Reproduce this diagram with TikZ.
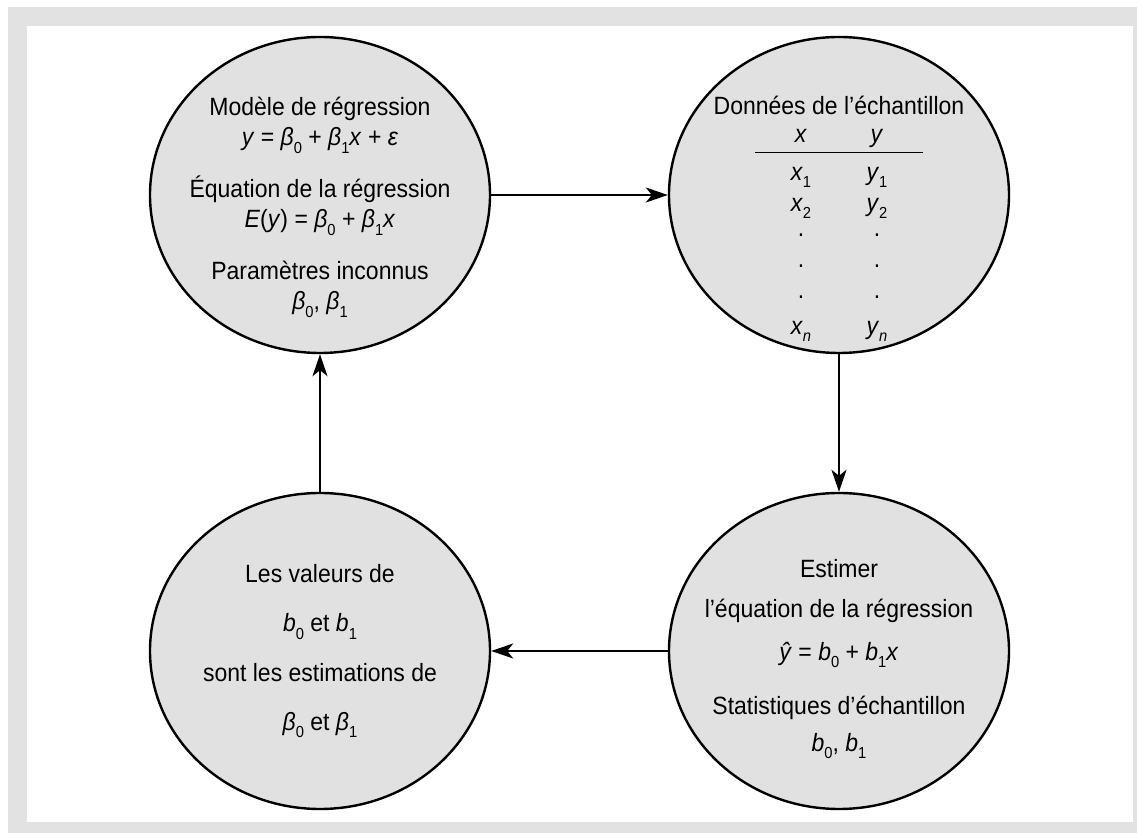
\documentclass[tikz,border=0pt]{standalone}
\usepackage{fontspec}
\setmainfont{Liberation Sans}[FakeStretch=0.92]
\usepackage{array}
\usetikzlibrary{shapes.geometric,arrows.meta}
\definecolor{panel}{RGB}{225,226,225}
\definecolor{bubblefill}{RGB}{224,225,224}
\newcommand{\mi}[1]{\textit{#1}}
\newcommand{\lo}[1]{\raisebox{-0.55ex}{\fontsize{8}{8}\selectfont #1}}
\newcommand{\vdot}{\raisebox{2.5pt}{.}}

\begin{document}
\begin{tikzpicture}[x=0.5pt,y=-0.5pt,auto,font=\fontsize{12.5}{15}\selectfont]
  \tikzstyle{bubble}=[ellipse,draw,line width=1.2pt,fill=bubblefill,minimum width=170pt,minimum height=158pt,inner sep=0pt]
  \tikzstyle{txt}=[align=center,inner sep=0pt,anchor=north]
  \tikzstyle{flow}=[-{Stealth[length=11pt,width=7.5pt,inset=3pt]},line width=1pt]
  \useasboundingbox (0,0) rectangle (1137,833);
  \fill[panel] (8,7) rectangle (1137,833);
  \fill[white] (27,26) rectangle (1133,822);
  % the four circles
  \node[bubble] (model) at (320,195) {};
  \node[bubble] (sample) [right of=model,node distance=259.5pt] {};
  \node[bubble] (estimate) [below of=sample,node distance=228pt] {};
  \node[bubble] (values) [left of=estimate,node distance=259.5pt] {};
  % texts
  \node[txt] (modeltext) at (320,97) {Modèle de régression\\
    \mi{y} = \mi{β}\lo{0} + \mi{β}\lo{1}\mi{x} + \mi{ε}\\[11pt]
    Équation de la régression\\
    \mi{E}(\mi{y}) = \mi{β}\lo{0} + \mi{β}\lo{1}\mi{x}\\[11pt]
    Paramètres inconnus\\
    \mi{β}\lo{0}, \mi{β}\lo{1}};
  \node[txt] (sampletext) at (839,96) {Données de l’échantillon\\[-1.25pt]
    \renewcommand{\arraystretch}{1.027}%
    \begin{tabular}[t]{@{\hspace{17pt}}wc{12pt}@{\hspace{26pt}}wc{12pt}@{\hspace{17pt}}}
      \mi{x} & \mi{y}\\ \hline\noalign{\vskip3.2pt}
      \mi{x}\lo{1} & \mi{y}\lo{1}\\
      \mi{x}\lo{2} & \mi{y}\lo{2}\\
      \vdot & \vdot\\
      \vdot & \vdot\\
      \vdot & \vdot\\
      \mi{x}\lo{\mi{n}} & \mi{y}\lo{\mi{n}}
    \end{tabular}};
  \node[txt] (estimatetext) at (839,559) {Estimer\\[5pt]
    l’équation de la régression\\[6.5pt]
    \mi{ŷ} = \mi{b}\lo{0} + \mi{b}\lo{1}\mi{x}\\[12pt]
    Statistiques d’échantillon\\[3.5pt]
    \mi{b}\lo{0}, \mi{b}\lo{1}};
  \node[txt] (valuestext) at (320,564) {Les valeurs de\\[9.7pt]
    \mi{b}\lo{0} et \mi{b}\lo{1}\\[9.7pt]
    sont les estimations de\\[9.7pt]
    \mi{β}\lo{0} et \mi{β}\lo{1}};
  % the cycle
  \draw[flow] (model) -- (sample);
  \draw[flow] (sample) -- (estimate);
  \draw[flow] (estimate) -- (values);
  \draw[flow] (values) -- (model);
\end{tikzpicture}
\end{document}
